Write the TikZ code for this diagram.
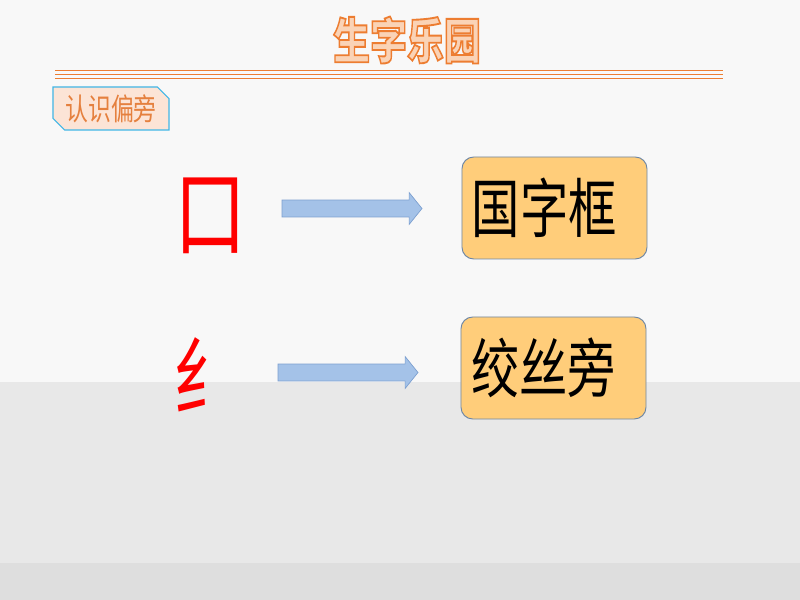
\documentclass[tikz,border=0pt]{standalone}
\usepackage{fontspec,graphicx,xcolor}
\newfontfamily\cjk{Noto Sans CJK SC}
\definecolor{bgtop}{HTML}{F8F8F8}
\definecolor{bgmid}{HTML}{E8E8E8}
\definecolor{bgbot}{HTML}{DEDEDE}
\definecolor{ttlorange}{HTML}{ED7D31}
\definecolor{ttlfill}{HTML}{FAD3B6}
\definecolor{tagfill}{HTML}{FCE4D6}
\definecolor{tagline}{HTML}{41B6E6}
\definecolor{tagtext}{HTML}{E5803E}
\definecolor{boxfill}{HTML}{FFCD7A}
\definecolor{boxline}{HTML}{6E87A6}
\definecolor{arrfill}{HTML}{A4C2E8}
\definecolor{arrline}{HTML}{7DA0D0}
\definecolor{radred}{HTML}{FF0000}
\usetikzlibrary{shapes.misc,calc}
\newcommand{\squeezetext}[1]{\scalebox{0.75}[1]{#1}}
% stroked + filled glyphs (text render mode 2)
\newcommand{\outlinetext}[1]{\textcolor{ttlfill}{\special{pdf:literal direct 2 Tr 1.6 w 0.929 0.490 0.192 RG}#1\special{pdf:literal direct 0 Tr}}}

\begin{document}
\begin{tikzpicture}[x=0.03cm, y=-0.03cm,
    namebox/.style={rectangle, rounded corners=10pt, draw=boxline, fill=boxfill, line width=0.8pt,
      text width=4.95cm, inner xsep=0.3cm, minimum height=3.06cm, align=left,
      font=\cjk\fontsize{55}{60}\selectfont},
    radical/.style={text=radred, inner sep=0pt},
    fatarrow/.style={draw=arrline, fill=arrfill, line width=0.6pt}
  ]
    % slide background
    \fill[bgtop] (0,0) rectangle (800,382);
    \fill[bgmid] (0,382) rectangle (800,563);
    \fill[bgbot] (0,563) rectangle (800,600);
    \useasboundingbox (0,0) rectangle (800,600);

    \node[inner sep=0pt, font=\cjk\bfseries\fontsize{42}{48}\selectfont] (title) at (407,40)
      {\squeezetext{\outlinetext{生字乐园}}};
    \foreach \yy in {70.5,74.5,78.5}
      \draw[ttlorange, line width=0.9pt] (55,\yy) -- (723,\yy);

    \node[chamfered rectangle, chamfered rectangle corners={north east,south west},
      chamfered rectangle xsep=5pt, chamfered rectangle ysep=5pt,
      draw=tagline, fill=tagfill, line width=0.9pt, minimum width=3.48cm, minimum height=1.29cm,
      inner sep=0pt, text=tagtext, font=\cjk\fontsize{26}{30}\selectfont] (tag) at (111,108.5)
      {\squeezetext{认识偏旁}};

    \node[radical, font=\cjk\fontsize{82}{90}\selectfont] (kou) at (211,216) {\squeezetext{口}};
    \node[radical, font=\cjk\fontsize{74}{80}\selectfont] (si) at (206,375) {\squeezetext{纟}};

    \node[namebox] (guo) at (554.5,208) {\squeezetext{国字框}};
    \node[namebox] (jiao) at (553.5,368) {\squeezetext{绞丝旁}};

    \coordinate (a1s) at (282,208.5);
    \coordinate (a1e) at (422,208.5);
    \coordinate (a2s) at (278,372.5);
    \coordinate (a2e) at (418,372.5);
    \draw[fatarrow] let \p1=(a1s), \p2=(a1e) in
      (\x1,\y1+7.2pt) -- (\x2-11pt,\y1+7.2pt) -- (\x2-11pt,\y1+13.6pt) -- (\x2,\y2)
      -- (\x2-11pt,\y1-13.6pt) -- (\x2-11pt,\y1-7.2pt) -- (\x1,\y1-7.2pt) -- cycle;
    \draw[fatarrow] let \p1=(a2s), \p2=(a2e) in
      (\x1,\y1+7.2pt) -- (\x2-11pt,\y1+7.2pt) -- (\x2-11pt,\y1+13.6pt) -- (\x2,\y2)
      -- (\x2-11pt,\y1-13.6pt) -- (\x2-11pt,\y1-7.2pt) -- (\x1,\y1-7.2pt) -- cycle;
  \end{tikzpicture}
\end{document}
